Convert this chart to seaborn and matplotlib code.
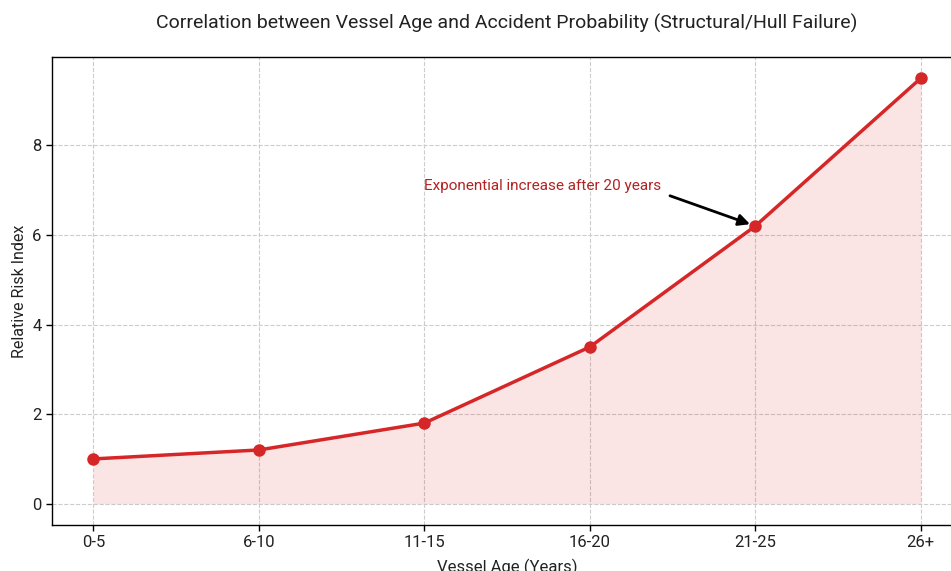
import matplotlib
matplotlib.use("Agg")
import matplotlib.pyplot as plt
import seaborn as sns
import pandas as pd

age_groups = ["0-5", "6-10", "11-15", "16-20", "21-25", "26+"]
risk_index = [1.0, 1.2, 1.8, 3.5, 6.2, 9.5]

sns.set_theme(style="whitegrid")
plt.rcParams["font.family"] = ["Roboto", "DejaVu Sans"]

df = pd.DataFrame({"age": age_groups, "risk": risk_index})
df["pos"] = range(len(df))

fig = plt.figure(figsize=(9.51, 5.71), dpi=100)
ax = fig.add_axes([0.0547, 0.0806, 0.957, 0.8196])

red = "#d62728"
ax.fill_between(df["pos"], df["risk"], 0, color=red, alpha=0.12, linewidth=0)
sns.lineplot(data=df, x="pos", y="risk", ax=ax, color=red, linewidth=2.5,
             marker="o", markersize=9, markeredgewidth=0)

ax.set_xticks(df["pos"])
ax.set_xticklabels(age_groups)
ax.set_yticks([0, 2, 4, 6, 8])
ax.margins(x=0.05, y=0.05)

ax.grid(True, linestyle="--", color="#cccccc", linewidth=0.8)
for s in ax.spines.values():
    s.set_visible(True)
    s.set_color("black")
    s.set_linewidth(1.0)
ax.tick_params(axis="both", which="both", length=4, width=1, color="black",
               labelsize=12, labelcolor="#222222", bottom=True, left=True)

ax.set_xlabel("Vessel Age (Years)", fontsize=12, color="#222222", labelpad=6)
ax.set_ylabel("Relative Risk Index", fontsize=11.5, color="#222222")
ax.set_title("Correlation between Vessel Age and Accident Probability (Structural/Hull Failure)",
             fontsize=14, pad=20, color="#222222")

ax.annotate("Exponential increase after 20 years",
            xy=(4, 6.2), xytext=(2, 7.1),
            fontsize=11, color="#b22222", va="center", ha="left",
            arrowprops=dict(arrowstyle="-|>", color="black", lw=2,
                            mutation_scale=17, shrinkA=4, shrinkB=4,
                            relpos=(1.0, 0.0)))

fig.savefig("out.png", dpi=100)
